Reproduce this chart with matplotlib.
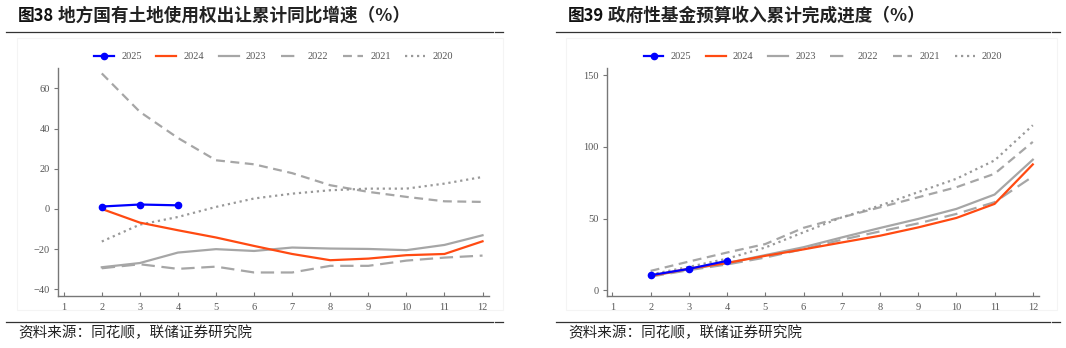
import matplotlib
matplotlib.use("Agg")
import matplotlib.pyplot as plt
from matplotlib.lines import Line2D
from matplotlib.patches import Rectangle

# ---------------- data ----------------
months = [1, 2, 3, 4, 5, 6, 7, 8, 9, 10, 11, 12]
series_years = ["2025", "2024", "2023", "2022", "2021", "2020"]

# Left chart: land-use-right transfer revenue, cumulative YoY (%)
land_2025 = [None, 1.2, 2.2, 1.8]
land_2024 = [None, 0.0, -6.8, -10.6, -14.2, -18.4, -22.4, -25.5, -24.7, -23.0, -22.4, -16.1]
land_2023 = [None, -29.0, -26.9, -21.7, -20.0, -20.9, -19.2, -19.7, -19.9, -20.5, -17.9, -13.1]
land_2022 = [None, -29.5, -27.5, -29.8, -28.7, -31.6, -31.6, -28.3, -28.3, -25.7, -24.2, -23.2]
land_2021 = [None, 67.4, 48.3, 35.3, 24.2, 22.2, 17.8, 11.8, 8.5, 6.0, 3.8, 3.5]
land_2020 = [None, -16.2, -7.8, -4.0, 1.0, 5.2, 7.6, 9.3, 10.1, 10.1, 12.6, 15.9]

# Right chart: government fund budget revenue, cumulative completion (%)
fund_2025 = [None, 10.5, 14.9, 20.5]
fund_2024 = [None, 10.0, 15.0, 19.0, 24.0, 28.5, 33.3, 38.0, 43.8, 50.4, 60.2, 87.7]
fund_2023 = [None, 10.0, 14.5, 19.0, 24.5, 30.0, 36.8, 43.4, 49.7, 56.7, 66.7, 91.0]
fund_2022 = [None, 9.5, 14.0, 18.0, 22.8, 28.7, 35.2, 41.0, 46.6, 53.2, 61.4, 79.3]
fund_2021 = [None, 13.5, 20.0, 26.3, 32.2, 43.5, 50.8, 57.8, 64.8, 71.8, 81.2, 103.4]
fund_2020 = [None, 11.0, 16.3, 22.0, 29.8, 40.4, 50.8, 59.0, 68.4, 77.7, 90.5, 115.0]

left_title_a = "图38"
left_title_b = " 地方国有土地使用权出让累计同比增速（%）"
right_title_a = "图39"
right_title_b = " 政府性基金预算收入累计完成进度（%）"
source_text = "资料来源：同花顺，联储证券研究院"

left_yticks = [-40, -20, 0, 20, 40, 60]
right_yticks = [0, 50, 100, 150]

# ---------------- styles ----------------
GRAY = "#a6a6a6"
styles = {
    "2025": dict(color="#0000ff", lw=1.6, marker="o", markersize=4.5, zorder=6),
    "2024": dict(color="#ff4a12", lw=1.6, zorder=5),
    "2023": dict(color=GRAY, lw=1.6, zorder=4),
    "2022": dict(color=GRAY, lw=1.6, dashes=(6, 3), zorder=3),
    "2021": dict(color=GRAY, lw=1.6, dashes=(4, 2.5), zorder=3),
    "2020": dict(color="#999999", lw=1.6, dashes=(1, 1.7), zorder=3),
}

W, H = 1066, 348
fig = plt.figure(figsize=(W / 100, H / 100), dpi=100)
fig.patch.set_facecolor("white")

def fx(px):
    return px / W

def fy(py):
    return 1 - py / H

serif = "Liberation Serif"
tick_color = "#555555"

def make_axes(left_px, right_px, ylim, yticks, data):
    ax = fig.add_axes([fx(left_px), fy(296), fx(right_px - left_px), (296 - 68) / H])
    for yr, ys in zip(series_years, data):
        xs = months[: len(ys)]
        pts = [(x, y) for x, y in zip(xs, ys) if y is not None]
        ax.plot([p[0] for p in pts], [p[1] for p in pts], label=yr, **styles[yr])
    ax.set_xlim(0.85, 12.17)
    ax.set_ylim(*ylim)
    ax.set_xticks(months)
    ax.set_yticks(yticks)
    for s in ["top", "right"]:
        ax.spines[s].set_visible(False)
    for s in ["left", "bottom"]:
        ax.spines[s].set_color("#777777")
        ax.spines[s].set_linewidth(1.0)
    ax.tick_params(axis="x", direction="in", length=3, width=0.8, color="#777777",
                   pad=5, labelsize=7.5, labelcolor=tick_color)
    ax.tick_params(axis="y", direction="out", length=3, width=0.8, color="#777777",
                   pad=3, labelsize=7.5, labelcolor=tick_color)
    for lab in ax.get_xticklabels() + ax.get_yticklabels():
        lab.set_fontfamily(serif)
    ax.set_facecolor("none")
    leg = ax.legend(loc="center", bbox_to_anchor=(0.5, 1.05), ncol=6, frameon=False,
                    prop={"family": serif, "size": 7.5}, handlelength=1.9,
                    handletextpad=0.7, columnspacing=1.4, borderaxespad=0)
    for t in leg.get_texts():
        t.set_color(tick_color)
    return ax

axL = make_axes(58, 489, (-43.3, 70.1), left_yticks,
                [land_2025, land_2024, land_2023, land_2022, land_2021, land_2020])
axR = make_axes(606.7, 1039.3, (-4.0, 154.9), right_yticks,
                [fund_2025, fund_2024, fund_2023, fund_2022, fund_2021, fund_2020])

# very faint panel frames
for x0, x1 in [(17, 503), (566, 1057)]:
    fig.patches.append(Rectangle((fx(x0), fy(310)), fx(x1 - x0), (310 - 38) / H,
                                 transform=fig.transFigure, fill=False,
                                 edgecolor="#f4f4f4", lw=0.8, zorder=0))

# header / footer rules
for x0, x1 in [(6, 503), (556, 1060)]:
    for y in (31.5, 321.5):
        fig.add_artist(Line2D([fx(x0), fx(x1 - 10)], [fy(y), fy(y)], color="#333333", lw=0.9))
        fig.add_artist(Line2D([fx(x1 - 8), fx(x1)], [fy(y), fy(y)], color="#333333", lw=0.9))

cjk = ["Noto Sans CJK SC", "DejaVu Sans"]
fig.canvas.draw()
renderer = fig.canvas.get_renderer()

def title(x_px, a, b):
    t1 = fig.text(fx(x_px), fy(16), a, family=cjk, fontsize=12, weight="bold",
                  va="center", ha="left", color="#111111")
    bb = t1.get_window_extent(renderer)
    fig.text(bb.x1 / W, fy(16), b, family=cjk, fontsize=12.7, weight="bold",
             va="center", ha="left", color="#222222")

title(18, left_title_a, left_title_b)
title(568, right_title_a, right_title_b)

fig.text(fx(18), fy(333), source_text, family=cjk, fontsize=10.5,
         va="center", ha="left", color="#222222")
fig.text(fx(568), fy(333), source_text, family=cjk, fontsize=10.5,
         va="center", ha="left", color="#222222")

fig.savefig("out.png", dpi=100, facecolor="white")
